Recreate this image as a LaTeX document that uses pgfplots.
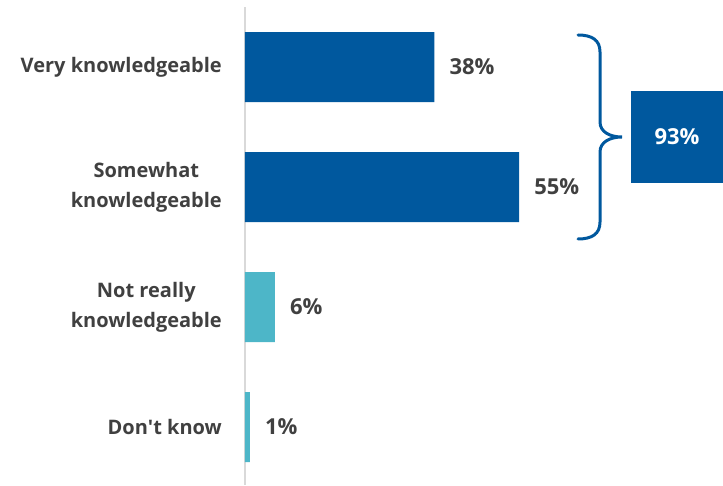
\documentclass[border=0pt]{standalone}
\usepackage{pgfplots}
\pgfplotsset{compat=1.18}
\usepackage{fontspec}
\setmainfont{Open Sans}
\definecolor{darkblue}{HTML}{00589E}
\definecolor{lteal}{HTML}{4DB6C8}
\definecolor{txt}{HTML}{404040}
\definecolor{axgray}{HTML}{D9D9D9}
\begin{document}
\begin{tikzpicture}[x=1pt,y=1pt]
\useasboundingbox (0,0) rectangle (723,485);
\begin{axis}[
  at={(245pt,0.4pt)}, anchor=south west,
  scale only axis, width=299pt, height=477.6pt,
  xbar, bar width=70pt, bar shift=0pt,
  xmin=0, xmax=60, ymin=-0.5, ymax=3.48, y dir=reverse,
  axis x line=none, axis y line*=left,
  y axis line style={axgray, line width=2pt, -},
  ytick={0,1,2,3},
  yticklabels={{Very knowledgeable},{Somewhat\\knowledgeable},{Not really\\knowledgeable},{Don\textquotesingle t know}},
  yticklabel style={align=center, font=\fontsize{20}{30}\selectfont\bfseries, text=txt, inner sep=0pt, xshift=-23pt},
  major tick length=0pt,
  /pgf/number format/assume math mode=true,
  nodes near coords={\pgfmathprintnumber{\pgfplotspointmeta}\%},
  nodes near coords style={font=\fontsize{22}{26}\selectfont\bfseries, text=txt, inner sep=0pt, anchor=west, xshift=15pt},
  point meta=x,
  clip=false,
]
\addplot[fill=darkblue, draw=none] coordinates {(38,0) (55,1)};
\addplot[fill=lteal, draw=none] coordinates {(6,2) (1,3)};
\end{axis}
\draw[darkblue, line width=3pt, line cap=round]
  (578,450) .. controls (592,450) and (600,445) .. (600,433)
  -- (600,363) .. controls (600,353) and (610,348) .. (622,348)
  .. controls (610,348) and (600,343) .. (600,333)
  -- (600,263) .. controls (600,251) and (592,246) .. (578,246);
\fill[darkblue] (631,302.3) rectangle (723,393.5);
\node[text=white, font=\fontsize{22}{26}\selectfont\bfseries] at (677,348) {93\%};
\end{tikzpicture}
\end{document}
